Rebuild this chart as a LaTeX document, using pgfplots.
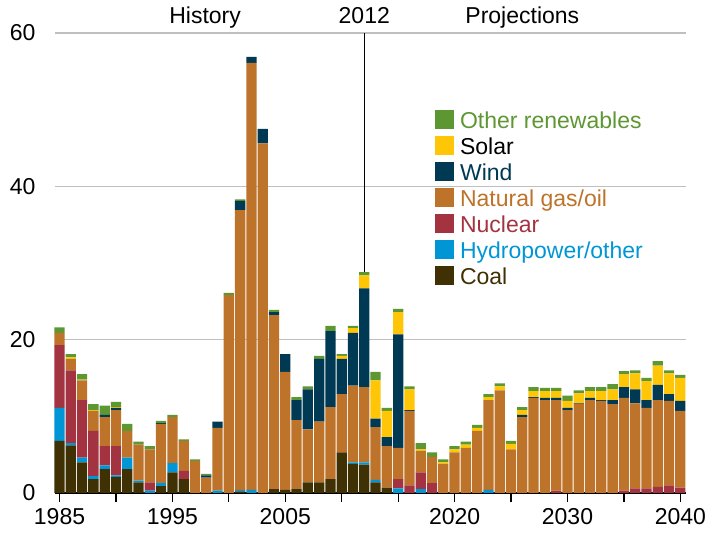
\documentclass[border=0pt]{standalone}
\usepackage{fontspec}
\setmainfont{Liberation Sans}
\usepackage{pgfplots}
\usepackage{pgfplotstable}
\pgfplotsset{compat=1.18}

\definecolor{coalc}{HTML}{3F3104}
\definecolor{hydroc}{HTML}{0096D6}
\definecolor{nucc}{HTML}{A33340}
\definecolor{gasc}{HTML}{BD732A}
\definecolor{windc}{HTML}{003953}
\definecolor{solarc}{HTML}{FFC608}
\definecolor{otherc}{HTML}{5D9732}

% capacity additions, GW
\pgfplotstableread{
year coal hydro nuclear gas wind solar other
1985 6.8 4.3 8.2 1.6 0 0 0.7
1986 6.2 0.3 9.5 1.5 0 0.2 0.4
1987 4.0 0.6 7.5 2.6 0 0.1 0.7
1988 1.8 0.4 5.9 2.6 0 0.1 0.8
1989 3.1 0.5 2.5 3.8 0.3 0 1.2
1990 2.1 0.2 3.8 4.7 0.3 0.1 0.7
1991 3.1 1.5 0 3.5 0 0 0.9
1992 1.4 0.2 0 4.7 0 0 0.4
1993 0 0.3 1.1 4.3 0 0 0.4
1994 0.9 0.4 0 7.7 0.1 0 0.3
1995 2.7 1.2 0 6.0 0 0 0.3
1996 1.8 0 1.1 3.9 0 0 0.2
1997 0 0 0 4.2 0 0 0.2
1998 0 0 0 2.0 0.3 0 0.2
1999 0 0.3 0 8.2 0.8 0 0
2000 0 0 0 25.8 0 0 0.3
2001 0.2 0.2 0 36.5 1.2 0 0.2
2002 0 0.4 0 55.7 0.8 0 0
2003 0 0 0 45.6 1.9 0 0
2004 0.5 0 0 22.7 0.4 0 0.3
2005 0.4 0 0 15.4 2.3 0 0
2006 0.5 0 0 9.0 2.6 0 0.4
2007 1.4 0 0 6.9 5.2 0 0.4
2008 1.4 0 0 7.9 8.2 0 0.4
2009 1.8 0 0 9.4 9.9 0 0.7
2010 5.3 0 0 7.6 4.6 0.4 0.2
2011 3.8 0.2 0 10.0 6.9 0.6 0.3
2012 3.7 0.3 0 9.8 12.9 1.7 0.4
2013 1.4 0.3 0 6.9 1.1 5.0 1.1
2014 0.7 0 0 5.4 1.2 3.4 0.4
2015 0 0.6 1.2 4.1 14.8 2.9 0.4
2016 0 0 1.0 9.7 0.1 2.7 0.4
2017 0 0.5 2.2 2.8 0 0.2 0.8
2018 0 0 1.3 3.4 0 0 0.6
2019 0 0 0 3.8 0 0.2 0.4
2020 0 0 0 5.3 0 0.4 0.4
2021 0 0 0 5.9 0 0.4 0.4
2022 0 0 0 8.1 0 0.4 0.4
2023 0 0.4 0 11.7 0 0.4 0.4
2024 0 0 0 13.4 0 0.5 0.4
2025 0 0 0 5.7 0 0.7 0.4
2026 0 0 0 9.9 0.3 0.6 0.4
2027 0 0 0 12.4 0.1 0.8 0.5
2028 0 0 0 12.1 0.3 0.9 0.4
2029 0 0 0.3 11.8 0.3 0.9 0.4
2030 0 0 0 10.8 0.3 0.9 0.7
2031 0 0 0 11.6 0.1 1.3 0.4
2032 0 0 0 12.1 0.3 0.9 0.5
2033 0 0 0 12.0 0.1 1.2 0.5
2034 0 0 0 11.6 0.5 1.4 0.7
2035 0 0 0.3 12.1 1.4 1.7 0.4
2036 0 0 0.6 11.1 1.8 2.1 0.4
2037 0 0 0.6 10.5 1.0 2.5 0.4
2038 0 0 0.8 11.3 2.0 2.5 0.6
2039 0 0 1.0 11.0 0.9 2.7 0.4
2040 0 0 0.7 10.0 1.3 3.0 0.4
}\capdata

\newcommand\fs{\fontsize{23}{27}\selectfont}

\begin{document}
\begin{tikzpicture}
\begin{axis}[
    at={(0,0)}, anchor=south west,
    scale only axis, width=631pt, height=460pt,
    xmin=1984.6, xmax=2040.5, ymin=0, ymax=60,
    ybar stacked, bar width=0.91,
    axis line style={draw=none},
    ymajorgrids, grid style={draw=black!25, line width=1.3pt},
    ytick={0,20,40,60}, ytick style={draw=none},
    xtick={1985,1990,...,2040},
    xticklabels={1985,,1995,,2005,,,2020,,2030,,2040},
    tick align=outside, major tick length=9pt,
    xtick style={black, line width=1.3pt},
    xtick pos=bottom,
    /pgf/number format/assume math mode=true,
    tick label style={font=\fs},
    yticklabel style={xshift=-7pt},
    xticklabel style={yshift=-3pt},
    clip=false,
    reverse legend,
    legend cell align=left,
    legend image code/.code={\fill[#1] (0pt,-6.8pt) rectangle (19pt,12.2pt);},
    legend style={draw=none, fill=none, at={(0.602,0.835)}, anchor=north west,
        font=\fs, inner sep=0pt, row sep=0pt, column sep=4pt,
        nodes={inner sep=2pt, text height=17pt, text depth=5pt}},
]
\addplot[fill=coalc, draw=none] table[x=year, y=coal] {\capdata};
\addplot[fill=hydroc, draw=none] table[x=year, y=hydro] {\capdata};
\addplot[fill=nucc, draw=none] table[x=year, y=nuclear] {\capdata};
\addplot[fill=gasc, draw=none] table[x=year, y=gas] {\capdata};
\addplot[fill=windc, draw=none] table[x=year, y=wind] {\capdata};
\addplot[fill=solarc, draw=none] table[x=year, y=solar] {\capdata};
\addplot[fill=otherc, draw=none] table[x=year, y=other] {\capdata};
\addlegendentry{\textcolor{coalc}{Coal}}
\addlegendentry{\textcolor{hydroc}{Hydropower/other}}
\addlegendentry{\textcolor{nucc}{Nuclear}}
\addlegendentry{\textcolor{gasc}{Natural gas/oil}}
\addlegendentry{\textcolor{windc}{Wind}}
\addlegendentry{Solar}
\addlegendentry{\textcolor{otherc}{Other renewables}}

\draw[black, line width=1.3pt] (axis cs:2012,28.8) -- (axis cs:2012,60);
\draw[black, line width=1.8pt] (axis cs:1984.6,0) -- (axis cs:2040.5,0);
\node[font=\fs, anchor=base] at (axis cs:1997.9,61.3) {History};
\node[font=\fs, anchor=base] at (axis cs:2012,61.3) {2012};
\node[font=\fs, anchor=base] at (axis cs:2026,61.3) {Projections};
\end{axis}
\pgfresetboundingbox
\useasboundingbox (-55pt,-40pt) rectangle (666pt,493pt);
\end{tikzpicture}
\end{document}
